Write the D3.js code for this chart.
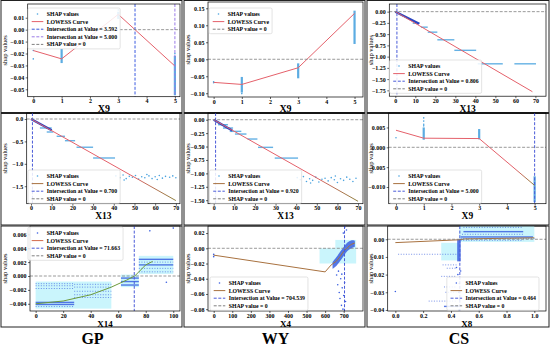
<!DOCTYPE html>
<html>
<head>
<meta charset="utf-8">
<script src="https://cdn.jsdelivr.net/npm/d3@7"></script>
<style>
body { margin: 0; background: #fff; }
text { font-family: "Liberation Serif", "Times New Roman", serif; }
</style>
</head>
<body>
<svg id="chart" width="550" height="347"></svg>
<script>
// tick values
var x9Ticks = [0, 1, 2, 3, 4, 5];
var x13Ticks = [0, 10, 20, 30, 40, 50, 60, 70];
var x14Ticks = [0, 20, 40, 60, 80, 100];
var x4Ticks = [0, 100, 200, 300, 400, 500, 600, 700];
var x8Ticks = [0, 0.2, 0.4, 0.6, 0.8, 1.0];
var p1YTicks = [0.01, 0, -0.01, -0.02, -0.03, -0.04, -0.05];
var p2YTicks = [0.15, 0.10, 0.05, 0, -0.05, -0.10];
var p3YTicks = [0, -0.25, -0.5, -0.75, -1.0, -1.25, -1.5, -1.75];
var p4YTicks = [0, -0.5, -1.0, -1.5];
var p5YTicks = [0, -0.25, -0.5, -0.75, -1.0, -1.25, -1.5];
var p6YTicks = [0.005, 0, -0.005, -0.010];
var p7YTicks = [0.006, 0.004, 0.002, 0, -0.002, -0.004];
var p8YTicks = [0.02, 0, -0.02, -0.04, -0.06, -0.08];
var p9YTicks = [0, -0.01, -0.02, -0.03, -0.04];
var groupNames = ["GP", "WY", "CS"];

// panel 1  (X9)
var p1Strips = [[1, -0.028, -0.016], [3, 0.009, 0.015], [5, -0.055, -0.022]];
var p1Pts = [[0, -0.0245], [0, -0.0175], [3, 0.0165], [5, -0.020]];
var p1Lowess = [[0, -0.0175], [1, -0.0245], [3, 0.0128], [5, -0.0305]];
var p1Cross = [3.592, 5.000];

// panel 2  (X9)
var p2Strips = [[1, -0.098, -0.052], [3, -0.056, -0.012], [5, 0.045, 0.143]];
var p2Pts = [[0, -0.069], [0, -0.066], [1, -0.101]];
var p2Lowess = [[0, -0.068], [1, -0.074], [3, -0.025], [5, 0.135]];
var p2Cross = [];

// panel 3  (X13)
var p3Diag = [[0, 0], [12, -0.27]];
var p3Rows = [[8.7, 12, -0.257], [12.8, 16.2, -0.345], [16.2, 21, -0.456], [21, 29.5, -0.626],
              [29.5, 40.4, -0.86], [41.2, 53.7, -1.16], [59.5, 70.3, -1.16]];
var p3Lowess = [[0, 0], [68.5, -1.78]];
var p3Cross = [0.806];

// panel 4  (X13)
var p4Diag = [[0, 0], [10, -0.25]];
var p4Rows = [[4.3, 10, -0.2], [7.6, 10.8, -0.29], [12.4, 16.4, -0.386], [16.4, 21.3, -0.484],
              [22, 30, -0.63], [30, 40.6, -0.87]];
var p4Pts = [[41, -1.27], [43, -1.31], [44.5, -1.25], [46, -1.33], [47.5, -1.28], [49, -1.30],
             [50.5, -1.26], [52, -1.34], [53.5, -1.29], [55, -1.31], [57, -1.27], [58.5, -1.33],
             [60, -1.29], [62, -1.26], [63.5, -1.32], [65, -1.28], [67, -1.30], [68.5, -1.27],
             [70, -1.31], [45, -1.36], [56, -1.24], [61, -1.35]];
var p4Lowess = [[0, 0], [70, -1.82]];
var p4Cross = [0.700];

// panel 5  (X13)
var p5Diag = [[0, 0], [9, -0.2]];
var p5Rows = [[2.1, 6.9, -0.093], [4.5, 9.4, -0.155], [7.8, 13.4, -0.217], [10.3, 15.9, -0.267],
              [16.4, 21.2, -0.36], [21.5, 28.8, -0.515], [29.6, 40.9, -0.715]];
var p5Pts = [[40.5, -1.08], [42, -1.12], [43.5, -1.06], [45, -1.15], [46.5, -1.10], [48, -1.13],
             [49.5, -1.07], [51, -1.16], [52.5, -1.11], [54, -1.09], [55.5, -1.14], [57, -1.08],
             [58.5, -1.12], [60, -1.17], [61.5, -1.10], [63, -1.13], [64.5, -1.07], [66, -1.11],
             [67.5, -1.15], [69, -1.09], [47, -1.18], [59, -1.05]];
var p5Lowess = [[0, 0], [70, -1.52]];
var p5Cross = [0.920];

// panel 6  (X9)
var p6Strips = [[1, 0.0019, 0.005], [3, 0.002, 0.0046], [5, -0.0138, -0.0073]];
var p6Pts = [[0, 0.0024], [1, 0.0074], [1, 0.0066], [1, 0.0058], [1, 0.0054]];
var p6Lowess = [[0, 0.0043], [1, 0.0023], [3, 0.0022], [5, -0.0096]];
var p6Cross = [5.000];

// panel 7  (GP, X14)
var p7Bands = [[0, 55, -0.0047, -0.0008], [62, 75, -0.0016, 0.0002], [75, 100, 0.0003, 0.0029]];
var p7Rows = [[0, 28, -0.0038], [0, 28, -0.0041],
              [62, 75, -0.0003], [62, 75, -0.0008], [62, 75, -0.0013],
              [75, 100, 0.0016], [75, 100, 0.0024]];
var p7Sparse = [[0, 28, -0.0011], [0, 28, -0.0014], [0, 28, -0.0018], [0, 28, -0.0044],
                [28, 55, -0.0012], [28, 55, -0.0016], [28, 55, -0.0022], [28, 55, -0.0027], [28, 55, -0.0031],
                [75, 100, 0.0006], [75, 100, 0.0011], [75, 100, 0.0020]];
var p7Pts = [[83, 0.0065], [100, 0.0069], [95, -0.0009]];
var p7Lowess = [[0, -0.0040], [20, -0.0036], [40, -0.0027], [55, -0.0016], [66, -0.0006],
                [72, 0.0], [80, 0.0016], [85, 0.0021]];
var p7Cross = [71.663];

// panel 8  (WY, X4)
var p8Bands = [[570, 767, -0.020, 0.0], [655, 767, 0.0, 0.011]];
var p8Cloud = [[640, -0.027, -0.018], [660, -0.024, -0.012], [680, -0.017, -0.005], [700, -0.010, 0.002],
               [720, -0.003, 0.008], [740, 0.0, 0.011], [760, 0.002, 0.010]];
var p8Pts = [[0, -0.008], [0, -0.011], [662, -0.035], [668, -0.048], [672, -0.03], [676, -0.058],
             [680, -0.066], [684, -0.04], [688, -0.075], [692, -0.052], [696, -0.08], [700, -0.062],
             [705, -0.045], [710, -0.07], [690, -0.034], [715, 0.024], [706, 0.028], [698, 0.02]];
var p8Lowess = [[0, -0.009], [600, -0.031], [632, -0.022], [660, -0.017], [680, -0.011], [700, -0.004],
                [720, 0.001], [740, 0.005], [760, 0.007]];
var p8Cross = [704.539];

// panel 9  (CS, X8)
var p9Bands = [[0.46, 1.0, -0.0015, 0.0075], [0.33, 0.46, -0.012, -0.002]];
var p9Blocks = [[0.445, 0.47, -0.0125, 0.0]];
var p9Rows = [[0.49, 0.92, 0.0043], [0.47, 0.99, 0.0013], [0.35, 0.45, -0.038]];
var p9Sparse = [[0.49, 0.92, 0.0067], [0.48, 0.92, 0.0028], [0.47, 1.01, 0.0004], [0.47, 0.92, -0.0006],
                [0.02, 0.44, -0.0085], [0.34, 0.44, -0.0145], [0.37, 0.44, -0.0164], [0.33, 0.44, -0.021],
                [0.35, 0.44, -0.027], [0.36, 0.44, -0.030], [0.24, 0.44, -0.035]];
var p9Pts = [[0.0, -0.0296], [0.45, -0.02], [0.46, -0.025], [0.455, -0.03], [0.462, -0.034],
             [0.45, -0.038], [0.458, -0.04], [0.44, -0.016], [0.47, -0.018]];
var p9Lowess = [[0, -0.0019], [0.46, -0.0003], [0.5, 0.0002], [1.0, 0.0008]];
var p9Cross = [0.464];

var red = "#e4606a", olive = "#8d7f3c", brown = "#a8713f", green = "#6d9a3a";
var lightPt = "#4aa3df", darkPt = "#3a5fe0";
var crossBlue = "#4a5bd8";

var panels = [
  {ox: 0, oy: 0, box: [27.7, 4, 180, 96.7], xDom: [-0.198, 5.18], yDom: [-0.0562, 0.0215],
   xTicks: x9Ticks, yTicks: p1YTicks, xFmt: "d", yFmt: ".2f", xLabel: "X9", xls: 10, xlOff: 15.2,
   strips: p1Strips, pts: p1Pts, lowess: p1Lowess, cross: p1Cross, crossColors: ["#3c5ce0", "#9a7be6"],
   ptColor: lightPt, stops: [[0, red], [1, red]], lowLeg: red, legend: {x: 28, y: 8, end: false}},
  {ox: 183, oy: 0, box: [25, 2, 180, 97], xDom: [-0.2, 5.3], yDom: [-0.111, 0.1685],
   xTicks: x9Ticks, yTicks: p2YTicks, xFmt: "d", yFmt: ".2f", xLabel: "X9", xls: 10, xlOff: 15,
   strips: p2Strips, pts: p2Pts, lowess: p2Lowess, cross: p2Cross, crossColors: [],
   ptColor: lightPt, stops: [[0, red], [1, red]], lowLeg: red, legend: {x: 26, y: 8, end: false}},
  {ox: 366, oy: 0, box: [23.3, 4, 180, 96.2], xDom: [-3, 75.3], yDom: [-1.88, 0.17],
   xTicks: x13Ticks, yTicks: p3YTicks, xFmt: "d", yFmt: ".2f", xLabel: "X13", xls: 9.5, xlOff: 15.8,
   diag: p3Diag, rows: p3Rows, lowess: p3Lowess, cross: p3Cross, crossColors: [crossBlue],
   ptColor: lightPt, stops: [[0, red], [1, red]], lowLeg: red, legend: {x: 23.5, y: 60, end: false}},
  {ox: 0, oy: 113, box: [26.7, 0, 180, 90.7], xDom: [-2.08, 72], yDom: [-1.89, 0.134],
   xTicks: x13Ticks, yTicks: p4YTicks, xFmt: "d", yFmt: ".1f", xLabel: "X13", xls: 9.5, xlOff: 15.5,
   diag: p4Diag, rows: p4Rows, pts: p4Pts, lowess: p4Lowess, cross: p4Cross, crossColors: [crossBlue],
   ptColor: lightPt, stops: [[0, red], [0.68, red], [1, olive]], lowLeg: brown, legend: {x: 28, y: 57, end: false}},
  {ox: 183, oy: 113, box: [25, 0, 180, 90.7], xDom: [-2.76, 72.4], yDom: [-1.565, 0.125],
   xTicks: x13Ticks, yTicks: p5YTicks, xFmt: "d", yFmt: ".2f", xLabel: "X13", xls: 9.5, xlOff: 15.5,
   diag: p5Diag, rows: p5Rows, pts: p5Pts, lowess: p5Lowess, cross: p5Cross, crossColors: [crossBlue],
   ptColor: lightPt, stops: [[0, red], [0.68, red], [1, olive]], lowLeg: brown, legend: {x: 26.5, y: 57, end: false}},
  {ox: 366, oy: 113, box: [22.7, 0, 180, 90.7], xDom: [-0.263, 5.41], yDom: [-0.0142, 0.00864],
   xTicks: x9Ticks, yTicks: p6YTicks, xFmt: "d", yFmt: ".3f", xLabel: "X9", xls: 9.5, xlOff: 15.5,
   strips: p6Strips, pts: p6Pts, lowess: p6Lowess, cross: p6Cross, crossColors: [crossBlue],
   ptColor: lightPt, stops: [[0, red], [0.85, red], [1, olive]], lowLeg: brown, legend: {x: 23.5, y: 57, end: false}},
  {ox: 0, oy: 225, box: [30, 1, 180, 86], xDom: [-4.1, 104.9], yDom: [-0.00504, 0.0072],
   xTicks: x14Ticks, yTicks: p7YTicks, xFmt: "d", yFmt: ".3f", xLabel: "X14", xls: 9, xlOff: 15.5,
   bands: p7Bands, rows: p7Rows, sparse: p7Sparse, pts: p7Pts, lowess: p7Lowess, cross: p7Cross,
   crossColors: [crossBlue], ptColor: darkPt, stops: [[0, green], [1, green]], lowLeg: "#d2694b",
   legend: {x: 28, y: 2, end: false}},
  {ox: 183, oy: 225, box: [25, 1, 180, 86], xDom: [-30.7, 804], yDom: [-0.0824, 0.0293],
   xTicks: x4Ticks, yTicks: p8YTicks, xFmt: "d", yFmt: ".2f", xLabel: "X4", xls: 9, xlOff: 15.5,
   bands: p8Bands, cloud: p8Cloud, pts: p8Pts, lowess: p8Lowess, cross: p8Cross,
   crossColors: [crossBlue], ptColor: darkPt, stops: [[0, brown], [1, brown]], lowLeg: brown,
   legend: {x: 27, y: 52, end: false}},
  {ox: 366, oy: 225, box: [21.7, 1, 180, 86], xDom: [-0.055, 1.084], yDom: [-0.0406, 0.0075],
   xTicks: x8Ticks, yTicks: p9YTicks, xFmt: ".1f", yFmt: ".2f", xLabel: "X8", xls: 9, xlOff: 15.5,
   bands: p9Bands, blocks: p9Blocks, rows: p9Rows, sparse: p9Sparse, pts: p9Pts, lowess: p9Lowess,
   cross: p9Cross, crossColors: [crossBlue], ptColor: darkPt, stops: [[0, brown], [1, brown]], lowLeg: brown,
   legend: {x: 173, y: 52, end: true}}
];

var svg = d3.select("#chart");
var defs = svg.append("defs");

// cell frames
var cellX = [[1, 182], [184, 365], [367, 549]];
var cellY = [[0.5, 112.5], [113.5, 225], [226, 327]];
cellY.forEach(function (cy) {
  cellX.forEach(function (cx) {
    svg.append("rect").attr("x", cx[0]).attr("y", cy[0])
      .attr("width", cx[1] - cx[0]).attr("height", cy[1] - cy[0])
      .attr("fill", "none").attr("stroke", "#222").attr("stroke-width", 1);
  });
});

function drawPanel(cfg, idx) {
  var g = svg.append("g").attr("transform", "translate(" + cfg.ox + "," + cfg.oy + ")");
  var b = cfg.box;
  var x = d3.scaleLinear().domain(cfg.xDom).range([b[0], b[2]]);
  var y = d3.scaleLinear().domain(cfg.yDom).range([b[3], b[1]]);

  defs.append("clipPath").attr("id", "clip" + idx).append("rect")
    .attr("x", b[0]).attr("y", b[1]).attr("width", b[2] - b[0]).attr("height", b[3] - b[1]);
  var plot = g.append("g").attr("clip-path", "url(#clip" + idx + ")");

  (cfg.bands || []).forEach(function (d) {
    plot.append("rect").attr("x", x(d[0])).attr("width", x(d[1]) - x(d[0]))
      .attr("y", y(d[3])).attr("height", y(d[2]) - y(d[3]))
      .attr("fill", "#bdf3fb").attr("opacity", 0.8);
  });
  (cfg.blocks || []).forEach(function (d) {
    plot.append("rect").attr("x", x(d[0])).attr("width", x(d[1]) - x(d[0]))
      .attr("y", y(d[3])).attr("height", y(d[2]) - y(d[3]))
      .attr("fill", cfg.ptColor).attr("opacity", 0.85);
  });
  (cfg.strips || []).forEach(function (d) {
    plot.append("rect").attr("x", x(d[0]) - 1.1).attr("width", 2.2)
      .attr("y", y(d[2])).attr("height", y(d[1]) - y(d[2]))
      .attr("fill", cfg.ptColor).attr("opacity", 0.9);
  });
  (cfg.sparse || []).forEach(function (d) {
    plot.append("line").attr("x1", x(d[0])).attr("x2", x(d[1]))
      .attr("y1", y(d[2])).attr("y2", y(d[2]))
      .attr("stroke", cfg.ptColor).attr("stroke-width", 0.9)
      .attr("stroke-dasharray", "1,1.6").attr("opacity", 0.75);
  });
  (cfg.rows || []).forEach(function (d) {
    plot.append("rect").attr("x", x(d[0])).attr("width", x(d[1]) - x(d[0]))
      .attr("y", y(d[2]) - 0.7).attr("height", 1.4)
      .attr("fill", cfg.ptColor).attr("opacity", 0.85);
  });
  if (cfg.cloud) {
    plot.append("path").datum(cfg.cloud)
      .attr("d", d3.area().x(function (d) { return x(d[0]); })
        .y0(function (d) { return y(d[1]); }).y1(function (d) { return y(d[2]); }).curve(d3.curveBasis))
      .attr("fill", cfg.ptColor).attr("opacity", 0.85);
  }
  if (cfg.diag) {
    plot.append("path").datum(cfg.diag)
      .attr("d", d3.line().x(function (d) { return x(d[0]); }).y(function (d) { return y(d[1]); }))
      .attr("stroke", "#2b45c0").attr("stroke-width", 2.2).attr("fill", "none");
  }
  (cfg.pts || []).forEach(function (d) {
    plot.append("circle").attr("cx", x(d[0])).attr("cy", y(d[1])).attr("r", 0.8)
      .attr("fill", cfg.ptColor);
  });

  // LOWESS curve with colour stops along x
  var gid = "grad" + idx;
  var first = cfg.lowess[0][0], last = cfg.lowess[cfg.lowess.length - 1][0];
  var grad = defs.append("linearGradient").attr("id", gid).attr("gradientUnits", "userSpaceOnUse")
    .attr("x1", x(first)).attr("x2", x(last)).attr("y1", 0).attr("y2", 0);
  cfg.stops.forEach(function (s) {
    grad.append("stop").attr("offset", s[0]).attr("stop-color", s[1]);
  });
  plot.append("path").datum(cfg.lowess)
    .attr("d", d3.line().x(function (d) { return x(d[0]); }).y(function (d) { return y(d[1]); }))
    .attr("stroke", "url(#" + gid + ")").attr("stroke-width", 1).attr("fill", "none");

  cfg.cross.forEach(function (v, i) {
    plot.append("line").attr("x1", x(v)).attr("x2", x(v)).attr("y1", b[1]).attr("y2", b[3])
      .attr("stroke", cfg.crossColors[i]).attr("stroke-width", 1).attr("stroke-dasharray", "3,1.6");
  });
  plot.append("line").attr("x1", b[0]).attr("x2", b[2]).attr("y1", y(0)).attr("y2", y(0))
    .attr("stroke", "#808080").attr("stroke-width", 0.8).attr("stroke-dasharray", "3,1.6");

  // axes
  var xa = g.append("g").attr("transform", "translate(0," + b[3] + ")")
    .call(d3.axisBottom(x).tickValues(cfg.xTicks).tickSize(2).tickPadding(0.5).tickFormat(d3.format(cfg.xFmt)));
  var ya = g.append("g").attr("transform", "translate(" + b[0] + ",0)")
    .call(d3.axisLeft(y).tickValues(cfg.yTicks).tickSize(2).tickPadding(1.5).tickFormat(d3.format(cfg.yFmt)));
  [xa, ya].forEach(function (a) {
    a.select(".domain").remove();
    a.selectAll("line").attr("stroke", "#000").attr("stroke-width", 0.6);
    a.selectAll("text").attr("font-size", 6).attr("font-weight", "bold")
      .attr("font-family", "'Liberation Serif', serif").attr("fill", "#000");
  });
  g.append("rect").attr("x", b[0]).attr("y", b[1]).attr("width", b[2] - b[0]).attr("height", b[3] - b[1])
    .attr("fill", "none").attr("stroke", "#000").attr("stroke-width", 0.7);

  g.append("text").attr("x", (b[0] + b[2]) / 2).attr("y", b[3] + cfg.xlOff)
    .attr("text-anchor", "middle").attr("font-size", cfg.xls).attr("font-weight", "bold").text(cfg.xLabel);
  g.append("text").attr("transform", "translate(7," + ((b[1] + b[3]) / 2) + ") rotate(-90)")
    .attr("text-anchor", "middle").attr("font-size", 6.5).text("shap values");

  drawLegend(g, cfg);
}

function drawLegend(g, cfg) {
  var entries = [{kind: "pt", label: "SHAP values"}, {kind: "line", color: cfg.lowLeg, label: "LOWESS Curve"}];
  cfg.cross.forEach(function (v, i) {
    entries.push({kind: "dash", color: cfg.crossColors[i], label: "Intersection at Value = " + d3.format(".3f")(v)});
  });
  entries.push({kind: "dash", color: "#808080", label: "SHAP value = 0"});
  var lg = g.append("g");
  var box = lg.append("rect");
  var maxW = 0;
  entries.forEach(function (e, i) {
    var cy = 6 + i * 7.6;
    if (e.kind == "pt") {
      lg.append("circle").attr("cx", 9.5).attr("cy", cy).attr("r", 0.8).attr("fill", cfg.ptColor);
    } else {
      lg.append("line").attr("x1", 3.7).attr("x2", 15.3).attr("y1", cy).attr("y2", cy)
        .attr("stroke", e.color).attr("stroke-width", 1)
        .attr("stroke-dasharray", e.kind == "dash" ? "3,1.6" : null);
    }
    var t = lg.append("text").attr("x", 18.7).attr("y", cy + 2).attr("font-size", 5.8)
      .attr("font-weight", "bold").text(e.label);
    maxW = Math.max(maxW, t.node().getComputedTextLength());
  });
  var w = 18.7 + maxW + 3, h = 6 + (entries.length - 1) * 7.6 + 4.5;
  box.attr("width", w).attr("height", h).attr("rx", 1.5).attr("fill", "#fff").attr("fill-opacity", 0.85)
    .attr("stroke", "#d0d0d0").attr("stroke-width", 0.6);
  var lx = cfg.legend.end ? cfg.legend.x - w : cfg.legend.x;
  lg.attr("transform", "translate(" + lx + "," + cfg.legend.y + ")");
}

panels.forEach(drawPanel);

// group names under the bottom row
groupNames.forEach(function (name, i) {
  svg.append("text").attr("x", (cellX[i][0] + cellX[i][1]) / 2 + 1).attr("y", 344)
    .attr("text-anchor", "middle").attr("font-size", 16).attr("font-weight", "bold").text(name);
});
</script>
</body>
</html>
